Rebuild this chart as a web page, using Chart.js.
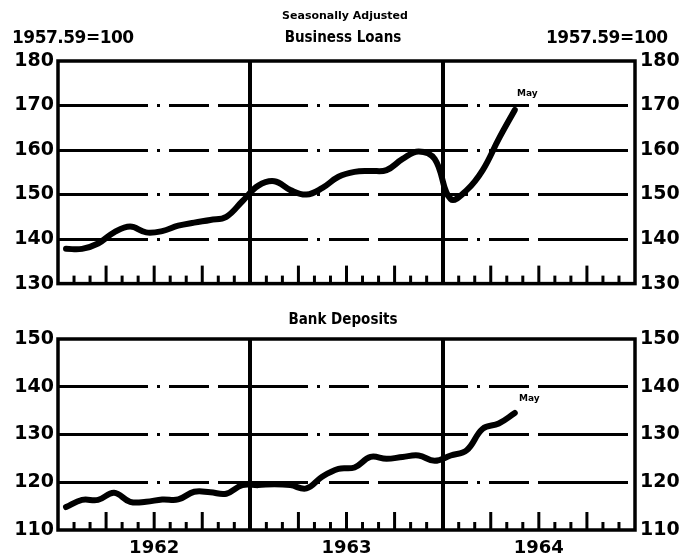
<!DOCTYPE html>
<html lang="en">
<head>
<meta charset="UTF-8">
<title>Business Loans and Bank Deposits</title>
<script src="https://cdn.jsdelivr.net/npm/chart.js"></script>
<style>
    body {
        margin: 0;
        background: #fff;
        font-family: 'DejaVu Sans', sans-serif;
        font-weight: bold;
        color: #000;
    }
    .page {
        position: relative;
        width: 679px;
        height: 559px;
        overflow: hidden;
    }
    .page canvas { position: absolute; left: 0; }
    .txt { position: absolute; white-space: nowrap; line-height: 1; }
    .base { font-size: 17px; top: 29px; letter-spacing: -0.5px; }
    .panel-title { font-family: 'DejaVu Sans Condensed', sans-serif; font-size: 15px; left: 0; width: 686px; text-align: center; }
    .note { font-size: 9px; }
</style>
</head>
<body>
<div class="page">
    <canvas id="loansChart" style="top:0" width="679" height="300"></canvas>
    <canvas id="depositsChart" style="top:300px" width="679" height="259"></canvas>

    <div class="txt" style="left:0;width:690px;text-align:center;top:10px;font-size:11px">Seasonally Adjusted</div>
    <div class="txt base" style="left:12px">1957.59=100</div>
    <div class="txt base" style="left:546px">1957.59=100</div>
    <div class="txt panel-title" style="top:30px">Business Loans</div>
    <div class="txt panel-title" style="top:312px">Bank Deposits</div>
    <div class="txt note" style="left:517px;top:89px">May</div>
    <div class="txt note" style="left:519px;top:394px">May</div>
</div>
<script>
// months Jan 1962 .. Dec 1964, data runs to May 1964
const months = [];
['1962', '1963', '1964'].forEach(y => {
    ['Jan','Feb','Mar','Apr','May','Jun','Jul','Aug','Sep','Oct','Nov','Dec'].forEach(m => months.push(m + ' ' + y));
});
const years = ['1962', '1963', '1964'];

const loans = [137.8, 137.8, 139, 141.5, 142.8, 141.5, 141.8, 143, 143.7, 144.3, 145, 148.5,
               152, 153, 151, 150, 151.5, 154, 155.1, 155.3, 155.5, 158, 159.7, 158,
               149, 151, 155.5, 162.5, 169];
const deposits = [114.8, 116.3, 116.3, 117.8, 115.9, 115.9, 116.4, 116.4, 118, 117.9, 117.6, 119.4,
                  119.4, 119.6, 119.4, 118.7, 121.2, 122.8, 123.1, 125.3, 124.9, 125.3, 125.6, 124.5,
                  125.6, 126.7, 131.2, 132.3, 134.5];

const loanTicks = [130, 140, 150, 160, 170, 180];
const depositTicks = [110, 120, 130, 140, 150];

const tickFont = { family: 'DejaVu Sans', size: 19, weight: 'bold' };

// frame + month ticks drawn off the chart's own scales
const framePlugin = {
    id: 'frame',
    afterDatasetsDraw(chart) {
        const { ctx, chartArea: a, scales: { x } } = chart;
        ctx.save();
        ctx.strokeStyle = '#000';
        ctx.lineWidth = 3;
        for (let k = 1; k < months.length; k++) {
            if (k % 12 === 0) continue;
            const px = x.getPixelForValue(k);
            const h = k % 3 === 0 ? 18 : 8;
            ctx.beginPath();
            ctx.moveTo(px, a.bottom);
            ctx.lineTo(px, a.bottom - h);
            ctx.stroke();
        }
        ctx.lineWidth = 3.5;
        ctx.strokeRect(a.left, a.top, a.right - a.left, a.bottom - a.top);
        ctx.restore();
    }
};

function makeChart(id, values, yTicks, padTop, xHeight, showYears) {
    const lo = yTicks[0], hi = yTicks[yTicks.length - 1];
    const yAxis = (pos, width, pad) => ({
        type: 'linear',
        position: pos,
        min: lo,
        max: hi,
        afterBuildTicks: s => { s.ticks = yTicks.map(v => ({ value: v })); },
        afterFit: s => { s.width = width; },
        ticks: { color: '#000', font: tickFont, padding: pad },
        grid: {
            display: pos === 'left',
            drawTicks: false,
            lineWidth: 3,
            color: c => (c.tick && (c.tick.value === lo || c.tick.value === hi)) ? 'rgba(0,0,0,0)' : '#000'
        },
        border: { display: false, dash: [90, 9, 3, 9, 40, 9] }
    });
    return new Chart(document.getElementById(id), {
        type: 'line',
        data: {
            datasets: [{
                data: values.map((v, i) => ({ x: i + 0.5, y: v })),
                borderColor: '#000',
                borderWidth: 6,
                borderCapStyle: 'round',
                borderJoinStyle: 'round',
                tension: 0.4,
                pointRadius: 0,
                yAxisID: 'y'
            }]
        },
        options: {
            responsive: false,
            animation: false,
            layout: { padding: { top: padTop, left: 0, right: 0, bottom: 0 } },
            plugins: { legend: { display: false }, tooltip: { enabled: false } },
            scales: {
                x: {
                    type: 'linear',
                    min: 0,
                    max: months.length,
                    afterBuildTicks: s => { s.ticks = [0, 6, 12, 18, 24, 30, 36].map(v => ({ value: v })); },
                    afterFit: s => { s.height = xHeight; },
                    ticks: {
                        display: showYears,
                        color: '#000',
                        font: { family: 'DejaVu Sans', size: 18, weight: 'bold' },
                        padding: 8,
                        maxRotation: 0,
                        autoSkip: false,
                        callback: v => (v % 12 === 6 ? years[(v - 6) / 12] : '')
                    },
                    grid: {
                        drawTicks: false,
                        lineWidth: 4,
                        color: c => (c.tick && (c.tick.value === 12 || c.tick.value === 24)) ? '#000' : 'rgba(0,0,0,0)'
                    },
                    border: { display: false }
                },
                y: yAxis('left', 58, 4),
                y2: yAxis('right', 44, 5)
            }
        },
        plugins: [framePlugin]
    });
}

makeChart('loansChart', loans, loanTicks, 61, 10, false);
makeChart('depositsChart', deposits, depositTicks, 39, 29, true);
</script>
</body>
</html>
